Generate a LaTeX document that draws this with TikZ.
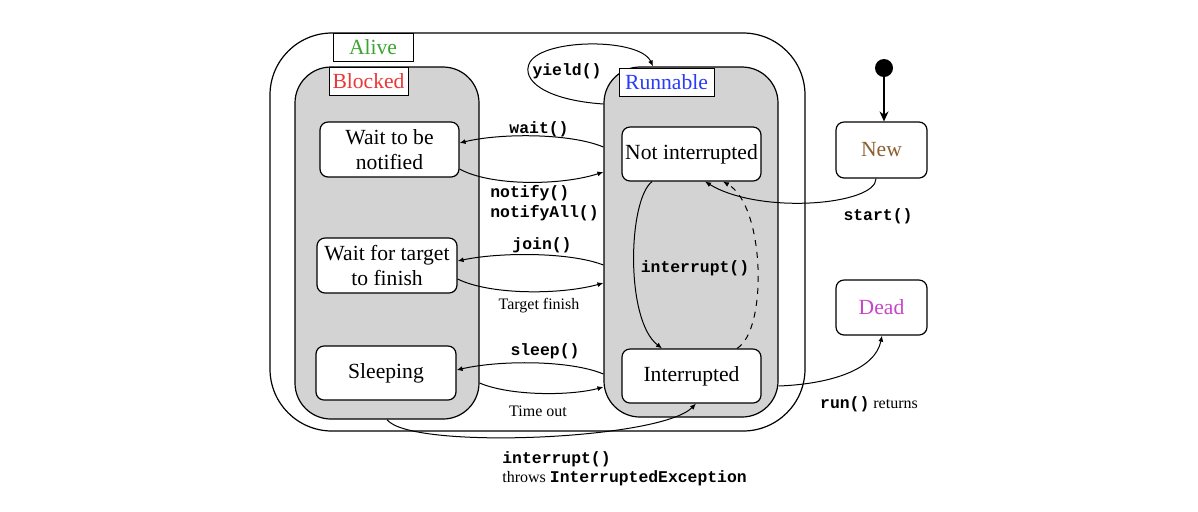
\documentclass[tikz,border=0pt]{standalone}
\usepackage{fontspec}
\setmainfont{Liberation Serif}
\newfontfamily\codefont{Liberation Mono}
\usetikzlibrary{arrows.meta}
\definecolor{alivec}{RGB}{60,165,50}
\definecolor{blockc}{RGB}{235,55,55}
\definecolor{runc}{RGB}{40,60,250}
\definecolor{newc}{RGB}{140,95,50}
\definecolor{deadc}{RGB}{200,70,200}
\definecolor{boxgray}{RGB}{211,211,211}
\newcommand\codetxt[1]{{\codefont\bfseries #1}}
\tikzset{
  state/.style={draw, line width=0.6pt, fill=white, rounded corners=4pt, align=center, inner sep=0pt, font=\fontsize{10.8}{12.6}\selectfont},
  region/.style={draw, line width=0.6pt, fill=boxgray, inner sep=0pt, rounded corners=18pt},
  tag/.style={draw, line width=0.45pt, fill=white, inner sep=0pt, font=\fontsize{10.8}{12.6}\selectfont},
  code/.style={inner sep=0pt, align=left, font=\fontsize{8.2}{10}\selectfont\codefont\bfseries},
  note/.style={inner sep=0pt, align=left, font=\fontsize{8}{9.5}\selectfont},
  trans/.style={line width=0.5pt, -{Latex[length=3pt,width=2.5pt]}},
}
\begin{document}
\begin{tikzpicture}[x=0.5pt,y=-0.5pt]
\useasboundingbox (0,0) rectangle (1198,511);
% containers
\node[draw, line width=0.6pt, rounded corners=31pt, minimum width=267.5pt, minimum height=199pt, inner sep=0pt] (alive) at (537.5,232) {};
\node[region, minimum width=92pt, minimum height=176pt] (blocked) at (387,243) {};
\node[region, minimum width=87pt, minimum height=175pt] (runnable) at (691,242) {};
\node[tag, minimum width=40pt, minimum height=14pt, text=alivec] (alivelbl) at (373,47.3) {Alive};
\node[tag, minimum width=39.5pt, minimum height=14pt, text=blockc] (blockedlbl) at (368.5,81.3) {Blocked};
\node[tag, minimum width=47.5pt, minimum height=14pt, text=runc] (runnablelbl) at (666.5,82) {Runnable};
% states
\node[state, minimum width=69.5pt, minimum height=27.5pt] (waitnot) at (389.5,149.5) {Wait to be\\notified};
\node[state, minimum width=70pt, minimum height=27.5pt] (waittarget) at (387,265.5) {Wait for target\\to finish};
\node[state, minimum width=70pt, minimum height=27pt] (sleeping) at (386,373) {Sleeping};
\node[state, minimum width=69.5pt, minimum height=27pt] (notint) at (691.5,154) {Not interrupted};
\node[state, minimum width=69.5pt, minimum height=27pt] (interrupted) at (691.5,376) {Interrupted};
\node[state, minimum width=45.5pt, minimum height=28pt, text=newc] (new) at (881.5,150) {New};
\node[state, minimum width=45.5pt, minimum height=27.5pt, text=deadc] (dead) at (881.5,307.5) {Dead};
\node[circle, fill=black, minimum size=9pt, inner sep=0pt] (init) at (884,68) {};
% transitions
\draw[line width=0.6pt, -{Stealth[length=5pt,width=4.5pt]}] (init) -- (init |- new.north);
\draw[trans] (runnable.west |- 0,147) .. controls (570,133) and (500,133) .. (waitnot.east |- 0,143);
\draw[trans] (waitnot.east |- 0,169) .. controls (490,186) and (560,186) .. (runnable.west |- 0,172);
\draw[trans] (runnable.west |- 0,265) .. controls (570,252) and (500,252) .. (waittarget.east |- 0,261);
\draw[trans] (waittarget.east |- 0,279) .. controls (490,295) and (560,295) .. (runnable.west |- 0,283);
\draw[trans] (runnable.west |- 0,374) .. controls (570,360) and (500,360) .. (sleeping.east |- 0,370);
\draw[trans] (blocked.east |- 0,383) .. controls (510,396) and (570,396) .. (runnable.west |- 0,387);
\draw[trans] (runnable.west |- 0,104) .. controls (545,100) and (520,80) .. (530,62) .. controls (545,38) and (640,38) .. (runnable.north -| 653,0);
\draw[trans] (notint.south -| 652,0) .. controls (628,200) and (625,320) .. (interrupted.north -| 662,0);
\draw[trans, dashed] (interrupted.north -| 737,0) .. controls (768,330) and (765,205) .. (notint.south -| 723,0);
\draw[trans] (new.south -| 876,0) .. controls (876,205) and (760,215) .. (notint.south -| 705,0);
\draw[trans] (runnable.east |- 0,386) .. controls (830,384) and (875,370) .. (dead.south -| 882,0);
\draw[trans] (blocked.south -| 387,0) .. controls (410,450) and (660,440) .. (interrupted.south -| 696,0);
% labels
\node[code] (lwait) at (539,129) {wait()};
\node[code, anchor=west] (lnotify) at (490,203) {notify()\\notifyAll()};
\node[code] (ljoin) at (542,245) {join()};
\node[note] (lfinish) at (539,306) {Target finish};
\node[code] (lsleep) at (545,351) {sleep()};
\node[note] (ltimeout) at (538,411) {Time out};
\node[code] (lyield) at (567,71) {yield()};
\node[code] (linterrupt) at (695,268) {interrupt()};
\node[code] (lstart) at (878,216) {start()};
\node[note] (lrun) at (869,404) {\codetxt{\fontsize{8.2}{10}\selectfont run()} returns};
\node[note, anchor=north west] (lthrows) at (502,451) {\codetxt{\fontsize{8.2}{10}\selectfont interrupt()}\\throws \codetxt{\fontsize{8.2}{10}\selectfont InterruptedException}};
\end{tikzpicture}
\end{document}
